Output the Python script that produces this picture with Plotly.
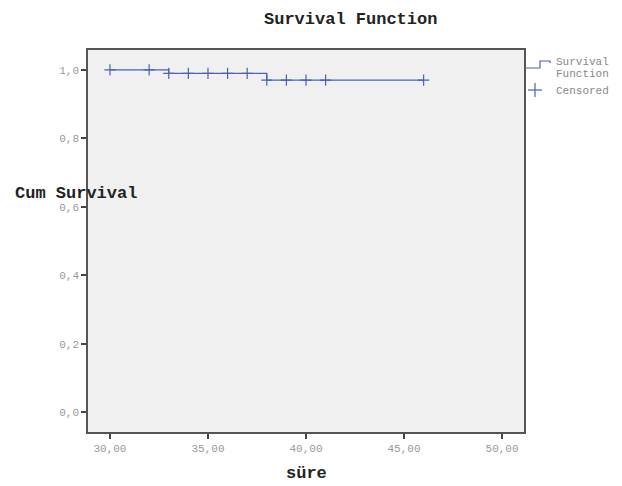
import plotly.graph_objects as go

# Data
step_times = [30, 33, 38, 46]
step_surv = [1.0, 0.99, 0.97, 0.97]
censor_times = [30, 32, 33, 34, 35, 36, 37, 38, 39, 40, 41, 46]
censor_surv = [1.0, 1.0, 0.99, 0.99, 0.99, 0.99, 0.99, 0.97, 0.97, 0.97, 0.97, 0.97]
x_ticks = [30, 35, 40, 45, 50]
y_ticks = [0.0, 0.2, 0.4, 0.6, 0.8, 1.0]

BLUE = "#4a62b4"
FONT = "Liberation Mono"
OFF = 8  # page body margin

fig = go.Figure()
fig.add_trace(go.Scatter(x=step_times, y=step_surv, mode="lines", line=dict(color=BLUE, width=1.2, shape="hv"),
                         showlegend=False, hoverinfo="skip"))
fig.add_trace(go.Scatter(x=censor_times, y=censor_surv, mode="markers",
                         marker=dict(symbol="cross-thin", size=8, line=dict(color=BLUE, width=1.2)),
                         showlegend=False))

W, H = 622 - OFF, 486 - OFF
# reference pixel edges of the plot area
RL, RR, RT, RB = 88, 524, 50, 432
L, T = RL - OFF, RT - OFF
R = W - (RR - OFF)
B = H - (RB - OFF)
pw = RR - RL
ph = RB - RT

def px(x):
    return (x - RL) / pw

def py(y):
    return 1 - (y - RT) / ph

fig.update_layout(
    width=W, height=H,
    margin=dict(l=L, r=R, t=T, b=B, pad=0),
    paper_bgcolor="white",
    plot_bgcolor="#f0f0f0",
    separators=",.",
    font=dict(family=FONT, color="#888888", size=11),
    showlegend=False,
    xaxis=dict(range=[28.88, 51.12], tickvals=x_ticks, tickformat=".2f", showgrid=False, zeroline=False,
               ticks="outside", ticklen=5, tickwidth=1.5, tickcolor="#444",
               showline=True, linecolor="#555", linewidth=1.5, mirror=True,
               tickfont=dict(family=FONT, size=11, color="#999")),
    yaxis=dict(range=[-0.058, 1.058], tickvals=y_ticks, tickformat=".1f", showgrid=False, zeroline=False,
               ticks="outside", ticklen=5, tickwidth=1.5, tickcolor="#444",
               showline=True, linecolor="#555", linewidth=1.5, mirror=True,
               tickfont=dict(family=FONT, size=11, color="#999")),
)

def note(text, x, y, size, color, xanchor="center", yanchor="middle"):
    return dict(text=text, x=px(x), y=py(y), xref="paper", yref="paper", xanchor=xanchor, yanchor=yanchor,
                showarrow=False, align="left", font=dict(family=FONT, size=size, color=color))

ann = [
    note("<b>Survival Function</b>", 350, OFF, 17, "#222", yanchor="top"),
    note("<b>süre</b>", 306, 473, 17, "#222"),
    note("<b>Cum Survival</b>", 13, 193, 17, "#222", xanchor="left"),
    note("Survival", 554, 62, 11, "#888", xanchor="left"),
    note("Function", 554, 74, 11, "#888", xanchor="left"),
    note("Censored", 554, 91, 11, "#888", xanchor="left"),
]
fig.update_layout(annotations=ann)

# legend symbols drawn as shapes
fig.add_shape(type="path", xref="paper", yref="paper",
              path=f"M {px(525)} {py(68)} L {px(540)} {py(68)} L {px(540)} {py(61)} L {px(550)} {py(61)} L {px(550)} {py(63)}",
              line=dict(color=BLUE, width=1.2))
cx, cy = 535, 90
fig.add_shape(type="line", xref="paper", yref="paper", x0=px(cx - 7), x1=px(cx + 7), y0=py(cy), y1=py(cy),
              line=dict(color=BLUE, width=1.2))
fig.add_shape(type="line", xref="paper", yref="paper", x0=px(cx), x1=px(cx), y0=py(cy - 7), y1=py(cy + 7),
              line=dict(color=BLUE, width=1.2))

fig.write_html("out.html")
